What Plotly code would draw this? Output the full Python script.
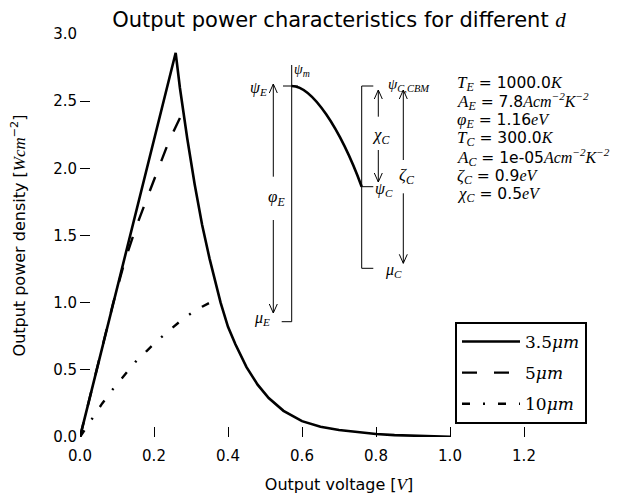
import plotly.graph_objects as go

# ---------------- data ----------------
v_35 = [0, 0.2586, 0.27, 0.29, 0.31, 0.33, 0.35, 0.37, 0.38, 0.40, 0.42, 0.45, 0.48,
        0.51, 0.55, 0.60, 0.65, 0.70, 0.75, 0.80, 0.85, 0.90, 0.95, 1.0]
p_35 = [0, 2.86, 2.60, 2.22, 1.88, 1.58, 1.33, 1.10, 1.0, 0.82, 0.69, 0.52, 0.39,
        0.29, 0.195, 0.118, 0.077, 0.052, 0.035, 0.022, 0.014, 0.009, 0.005, 0.002]

v_5 = [0, 0.03, 0.06, 0.09, 0.12, 0.15, 0.18, 0.21, 0.24, 0.271]
p_5 = [0, 0.33, 0.67, 1.0, 1.3, 1.55, 1.77, 1.98, 2.2, 2.38]

v_10 = [0, 0.03, 0.06, 0.09, 0.12, 0.15, 0.18, 0.21, 0.24, 0.27, 0.30, 0.33, 0.365]
p_10 = [0, 0.13, 0.25, 0.36, 0.46, 0.56, 0.64, 0.72, 0.79, 0.86, 0.92, 0.97, 1.02]

series_names = ["3.5<i>μm</i>", "5<i>μm</i>", "10<i>μm</i>"]
x_ticks = [0.0, 0.2, 0.4, 0.6, 0.8, 1.0, 1.2]
y_ticks = [0.0, 0.5, 1.0, 1.5, 2.0, 2.5, 3.0]

param_lines = [
    ("T", "E", "1000.0", "K"),
    ("A", "E", "7.8", "Acm<sup>−2</sup>K<sup>−2</sup>"),
    ("φ", "E", "1.16", "eV"),
    ("T", "C", "300.0", "K"),
    ("A", "C", "1e-05", "Acm<sup>−2</sup>K<sup>−2</sup>"),
    ("ζ", "C", "0.9", "eV"),
    ("χ", "C", "0.5", "eV"),
]

# ---------------- layout geometry ----------------
# the page body has an 8px margin, so the figure is drawn 8px in from the corner
OFF = 8
W, H = 621 - OFF, 496 - OFF
L, T = 80 - OFF, 34 - OFF
R = W - (598 - OFF)
B = H - (437 - OFF)
XMAX, YMAX = 1.4, 3.0
PW, PH = W - L - R, H - T - B

def X(px):  # screen pixel -> data x
    return (px - OFF - L) / PW * XMAX

def Y(py):  # screen pixel -> data y
    return (H - B - (py - OFF)) / PH * YMAX

SANS = "DejaVu Sans"
SERIF = "Liberation Serif"
SERIF2 = "DejaVu Serif"

def m(s, size=None):
    st = f"font-family:{SERIF}" + (f";font-size:{size}px" if size else "")
    return f'<span style="{st}"><i>{s}</i></span>'

fig = go.Figure()
fig.add_trace(go.Scatter(x=v_35, y=p_35, mode="lines", name=series_names[0],
                         legendgroup="a", line=dict(color="black", width=2.6)))
fig.add_trace(go.Scatter(x=v_5, y=p_5, mode="lines", name=series_names[1],
                         legendgroup="b", line=dict(color="black", width=2.4, dash="15px,17px")))
fig.add_trace(go.Scatter(x=v_10, y=p_10, mode="lines", name=series_names[2],
                         legendgroup="c", line=dict(color="black", width=2.4, dash="8px,13px,2px,13px")))

shapes = []
def seg(x0, y0, x1, y1, w=1.0):
    shapes.append(dict(type="line", x0=X(x0), y0=Y(y0), x1=X(x1), y1=Y(y1),
                       xref="x", yref="y", line=dict(color="black", width=w)))

def arrow(x, y_from, y_to):
    seg(x, y_from, x, y_to)
    d = 1 if y_to > y_from else -1
    seg(x - 4, y_to - d * 9, x, y_to)
    seg(x + 4, y_to - d * 9, x, y_to)

# energy diagram (decorative inset)
seg(283, 86, 298, 86)
seg(291.7, 65, 291.7, 321.7)
seg(281.7, 321.7, 291.7, 321.7)
seg(361.7, 86, 361.7, 268.3)
seg(361.7, 86, 373.3, 86)
seg(361.7, 186.7, 373.3, 186.7)
seg(361.7, 268.3, 373.3, 268.3)
arrow(273.3, 176.7, 84)
arrow(273.3, 220, 313)
arrow(378.3, 116.7, 90)
arrow(378.3, 150, 182)
arrow(403.3, 160, 90)
arrow(403.3, 193.3, 263.3)
p0, c1, c2, p1 = (291.7, 86), (312, 86), (340, 128), (361.7, 186.7)
shapes.append(dict(type="path", xref="x", yref="y",
                   path=f"M {X(p0[0])},{Y(p0[1])} C {X(c1[0])},{Y(c1[1])} {X(c2[0])},{Y(c2[1])} {X(p1[0])},{Y(p1[1])}",
                   line=dict(color="black", width=2.6)))

annotations = []
def lab(px, py, txt, size=15, anchor="center"):
    annotations.append(dict(x=X(px), y=Y(py), xref="x", yref="y", text=txt,
                            showarrow=False, xanchor=anchor, yanchor="middle",
                            font=dict(family=SERIF, size=size, color="black")))

lab(258, 88, "<i>ψ</i><sub><i>E</i></sub>", 16)
lab(302, 70, "<i>ψ</i><sub><i>m</i></sub>", 14)
lab(276, 198, "<i>φ</i><sub><i>E</i></sub>", 17)
lab(262, 318, "<i>μ</i><sub><i>E</i></sub>", 16)
lab(409, 85, "<i>ψ</i><sub><i>C,CBM</i></sub>", 15)
lab(381, 136, "<i>χ</i><sub><i>C</i></sub>", 17)
lab(407, 176, "<i>ζ</i><sub><i>C</i></sub>", 17)
lab(384, 189, "<i>ψ</i><sub><i>C</i></sub>", 16)
lab(393, 270, "<i>μ</i><sub><i>C</i></sub>", 16)

for i, (sym, sub, num, unit) in enumerate(param_lines):
    py = 83 + i * 18.6
    txt = f"{m(sym, 17)}<sub>{m(sub, 12)}</sub> = {num}{m(unit, 16)}"
    annotations.append(dict(x=X(455), y=Y(py), xref="x", yref="y", text=txt,
                            showarrow=False, xanchor="left", yanchor="middle",
                            font=dict(family=SANS, size=15.5, color="black")))

fig.update_layout(
    width=W, height=H,
    margin=dict(l=L, r=R, t=T, b=B, pad=0),
    paper_bgcolor="white", plot_bgcolor="white",
    title=dict(text=f"Output power characteristics for different {m('d', 21)}",
               x=(L + PW / 2) / W, xanchor="center", xref="container",
               y=1 - (20 - OFF) / H, yanchor="middle", yref="container",
               font=dict(family=SANS, size=21, color="black")),
    xaxis=dict(range=[0, XMAX], tickvals=x_ticks, ticktext=[f"{v:.1f}" for v in x_ticks],
               ticks="inside", ticklen=10, tickwidth=1.2, tickcolor="black",
               showline=False, zeroline=False, showgrid=False, automargin=False,
               ticklabelstandoff=8,
               tickfont=dict(family=SANS, size=15, color="black"),
               title=dict(text=f"Output voltage [{m('V', 17)}]", standoff=14,
                          font=dict(family=SANS, size=16, color="black"))),
    yaxis=dict(range=[0, YMAX], tickvals=y_ticks, ticktext=[f"{v:.1f}" for v in y_ticks],
               ticks="inside", ticklen=10, tickwidth=1.2, tickcolor="black",
               showline=False, zeroline=False, showgrid=False, automargin=False,
               ticklabelstandoff=2,
               tickfont=dict(family=SANS, size=15, color="black"),
               title=dict(text=f"Output power density [{m('Wcm', 17)}<sup>−2</sup>]", standoff=24,
                          font=dict(family=SANS, size=16, color="black"))),
    legend=dict(x=(587 - 80) / PW, y=(437 - 424) / PH, xanchor="right", yanchor="bottom",
                bordercolor="black", borderwidth=2, bgcolor="white",
                tracegroupgap=6, itemwidth=58,
                font=dict(family=SERIF2, size=17, color="black")),
    shapes=shapes, annotations=annotations,
)

fig.write_html("out.html")
